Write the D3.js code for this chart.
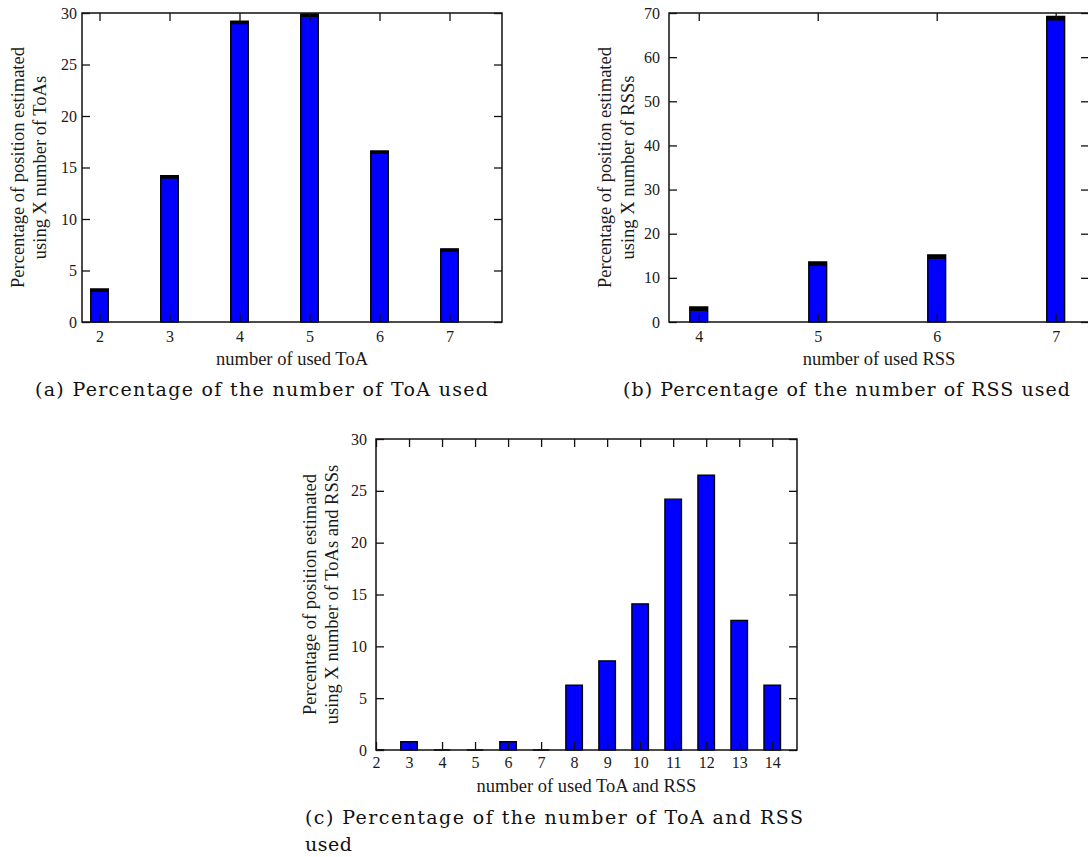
<!DOCTYPE html>
<html>
<head>
<meta charset="utf-8">
<script src="https://cdn.jsdelivr.net/npm/d3@7"></script>
<style>
 body{margin:0;background:#fff;}
 svg text{font-family:"Liberation Serif","Times New Roman",serif;fill:#1a1a1a;}
 svg text.caption{font-family:"DejaVu Serif","Liberation Serif",serif;fill:#111;}
</style>
</head>
<body>
<div id="fig"></div>
<script>
// (a) number of ToA used
const toaCounts = [2,3,4,5,6,7];
const toaPct = [3.2,14.2,29.2,29.9,16.6,7.1];

// (b) number of RSS used
const rssCounts = [4,5,6,7];
const rssPct = [3.4,13.6,15.2,69.2];

// (c) number of ToA and RSS used
const bothCounts = [2,3,4,5,6,7,8,9,10,11,12,13,14];
const bothPct = [0,0.8,0,0,0.8,0,6.25,8.6,14.1,24.2,26.5,12.5,6.25];

const yTicksA = [0,5,10,15,20,25,30];
const yTicksB = [0,10,20,30,40,50,60,70];
const yTicksC = [0,5,10,15,20,25,30];

const svg = d3.select('#fig').append('svg')
    .attr('width',1088)
    .attr('height',857);

function drawPanel(cfg){
 const g = svg.append('g')
     .attr('transform',`translate(${cfg.left},${cfg.top})`);

 const xScale = d3.scaleLinear()
     .domain(cfg.xDomain)
     .range([0,cfg.width]);

 const yScale = d3.scaleLinear()
     .domain([0,cfg.yMax])
     .range([cfg.height,0]);

 // clip so that a bar sitting on the border is cut in half
 g.append('clipPath')
     .attr('id','clip-'+cfg.id)
     .append('rect')
     .attr('width',cfg.width)
     .attr('height',cfg.height+1);

 const bars = g.append('g')
     .attr('clip-path',`url(#clip-${cfg.id})`);

 const data = cfg.counts.map((c,i)=>({n:c, v:cfg.values[i]}));
 const bw = xScale(cfg.barWidth) - xScale(0);

 // bars as closed paths, so that a zero bar still shows as a flat line
 bars.selectAll('path.bar')
     .data(data)
     .join('path')
     .attr('class','bar')
     .attr('d',d=>{
      const x0 = xScale(d.n)-bw/2, x1 = xScale(d.n)+bw/2;
      return `M${x0},${yScale(0)}V${yScale(d.v)}H${x1}V${yScale(0)}Z`;
     })
     .attr('fill','#0000ff')
     .attr('stroke','#000')
     .attr('stroke-width',1.4);

 // dark cap on top of the bars
 if(cfg.cap>0){
  bars.selectAll('line.cap')
      .data(data)
      .join('line')
      .attr('class','cap')
      .attr('x1',d=>xScale(d.n)-bw/2)
      .attr('x2',d=>xScale(d.n)+bw/2)
      .attr('y1',d=>yScale(d.v)+cfg.cap/2)
      .attr('y2',d=>yScale(d.v)+cfg.cap/2)
      .attr('stroke','#000')
      .attr('stroke-width',cfg.cap);
 }

 // axes, gnuplot style: inward ticks, mirrored
 const axB = g.append('g')
     .attr('transform',`translate(0,${cfg.height})`)
     .call(d3.axisBottom(xScale).tickValues(cfg.xTicks).tickSize(-8).tickPadding(cfg.xPad).tickFormat(d3.format('d')));
 const axT = g.append('g')
     .call(d3.axisTop(xScale).tickValues(cfg.xTicks).tickSize(-8).tickFormat(''));
 const axL = g.append('g')
     .call(d3.axisLeft(yScale).tickValues(cfg.yTicks).tickSize(-8).tickPadding(cfg.yPad));
 const axR = g.append('g')
     .attr('transform',`translate(${cfg.width},0)`)
     .call(d3.axisRight(yScale).tickValues(cfg.yTicks).tickSize(-8).tickFormat(''));

 [axB,axT,axL,axR].forEach(a=>{
  a.select('.domain').remove();
  a.selectAll('.tick line').attr('stroke','#111').attr('stroke-width',1.3);
  a.selectAll('text').style('font-size','16px').attr('fill','#1a1a1a');
 });

 g.append('rect')
     .attr('width',cfg.width)
     .attr('height',cfg.height)
     .attr('fill','none')
     .attr('stroke','#111')
     .attr('stroke-width',1.5);

 g.append('text')
     .text(cfg.xLabel)
     .attr('x',cfg.width/2)
     .attr('y',cfg.height+cfg.xLabelY)
     .attr('text-anchor','middle')
     .style('font-size','18.5px');

 const cy = cfg.height/2;
 cfg.yLabel.forEach((t,i)=>{
  g.append('text')
      .text(t)
      .attr('transform',`translate(${cfg.yLabelX[i]},${cy}) rotate(-90)`)
      .attr('text-anchor','middle')
      .attr('dy','0.35em')
      .style('font-size','18.5px');
 });
}

drawPanel({id:'a', left:82, top:13, width:420, height:309,
 xDomain:[1.75,7.75], yMax:30, counts:toaCounts, values:toaPct,
 xTicks:toaCounts, yTicks:yTicksA, barWidth:0.25, cap:3, xPad:9, yPad:5,
 xLabel:'number of used ToA', xLabelY:43,
 yLabel:['Percentage of position estimated','using X number of ToAs'], yLabelX:[-64,-42]});

drawPanel({id:'b', left:669, top:13, width:420, height:309,
 xDomain:[3.75,7.28], yMax:70, counts:rssCounts, values:rssPct,
 xTicks:rssCounts, yTicks:yTicksB, barWidth:0.15, cap:4, xPad:9, yPad:9,
 xLabel:'number of used RSS', xLabelY:43,
 yLabel:['Percentage of position estimated','using X number of RSSs'], yLabelX:[-64,-41.5]});

drawPanel({id:'c', left:376, top:439, width:421, height:311,
 xDomain:[2,14.75], yMax:30, counts:bothCounts, values:bothPct,
 xTicks:bothCounts, yTicks:yTicksC, barWidth:0.5, cap:0, xPad:7, yPad:9,
 xLabel:'number of used ToA and RSS', xLabelY:42,
 yLabel:['Percentage of position estimated','using X number of ToAs and RSSs'], yLabelX:[-66,-44]});

// sub-figure captions
function caption(t, x, y, len){
 const el = svg.append('text')
     .attr('class','caption')
     .text(t)
     .attr('x',x)
     .attr('y',y)
     .style('font-size','19px');
 if(len) el.attr('textLength',len).attr('lengthAdjust','spacing');
 else el.style('letter-spacing','0.5px');
}
caption('(a) Percentage of the number of ToA used', 35, 396, 453);
caption('(b) Percentage of the number of RSS used', 623, 396, 447);
caption('(c) Percentage of the number of ToA and RSS', 305, 824, 498);
caption('used', 305, 851);
</script>
</body>
</html>
